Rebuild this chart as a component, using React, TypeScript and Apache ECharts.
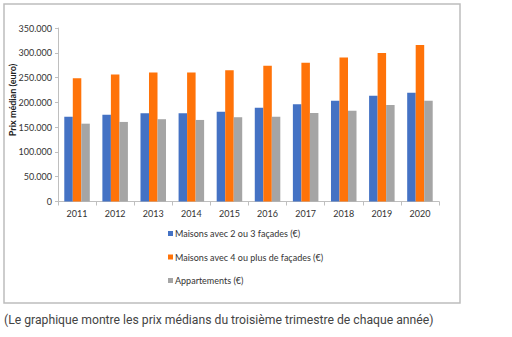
import React, { useEffect, useRef } from "react";
import * as echarts from "echarts";

const years = ["2011", "2012", "2013", "2014", "2015", "2016", "2017", "2018", "2019", "2020"];
const maisons23 = [171000, 175000, 178000, 178000, 181000, 189000, 196000, 203000, 213500, 219500];
const maisons4 = [248500, 256000, 260000, 260000, 265000, 274000, 280000, 290500, 299500, 315500];
const appartements = [157000, 160500, 166000, 164500, 170000, 171000, 178500, 183000, 194500, 203000];
const seriesNames = [
  "Maisons avec 2 ou 3 façades (€)",
  "Maisons avec 4 ou plus de façades (€)",
  "Appartements (€)",
];
const colors = ["#4472C4", "#FF7309", "#A5A5A5"];

const fmt = (v: number) => (v === 0 ? "0" : v.toLocaleString("de-DE"));

export default function App() {
  const ref = useRef<HTMLDivElement>(null);
  useEffect(() => {
    if (!ref.current) return;
    const chart = echarts.init(ref.current, null, { renderer: "svg" });
    const font = "Lato, 'Open Sans', sans-serif";
    chart.setOption({
      animation: false,
      backgroundColor: "#ffffff",
      textStyle: { fontFamily: font },
      grid: { left: 58, right: 73, top: 28, bottom: 135.5, containLabel: false },
      xAxis: {
        type: "category",
        data: years,
        axisLine: { lineStyle: { color: "#bfbfbf", width: 1 } },
        axisTick: { show: true, length: 4, lineStyle: { color: "#bfbfbf" } },
        axisLabel: { color: "#333", fontSize: 9, margin: 7, fontFamily: font },
      },
      yAxis: {
        type: "value",
        min: 0,
        max: 350000,
        interval: 50000,
        axisLine: { show: true, lineStyle: { color: "#bfbfbf", width: 1 } },
        axisTick: { show: true, length: 3, lineStyle: { color: "#bfbfbf" } },
        splitLine: { show: false },
        axisLabel: { color: "#333", fontSize: 9, margin: 6, formatter: fmt, fontFamily: font },
      },
      legend: {
        orient: "vertical",
        left: 163,
        top: 224,
        itemWidth: 5,
        itemHeight: 5,
        itemGap: 14.5,
        icon: "rect",
        textStyle: { color: "#333", fontSize: 9, fontFamily: font, padding: [0, 0, 0, -3] },
        data: seriesNames,
      },
      series: [maisons23, maisons4, appartements].map((d, i) => ({
        type: "bar",
        name: seriesNames[i],
        data: d,
        barGap: "0%",
        barCategoryGap: "33%",
        itemStyle: { color: colors[i] },
      })),
      graphic: [
        {
          type: "rect",
          shape: { x: 4, y: 4, width: 456, height: 299 },
          style: { fill: "none", stroke: "#bdbdbd", lineWidth: 1.5 },
          silent: true,
        },
        {
          type: "text",
          x: 12,
          y: 100,
          rotation: Math.PI / 2,
          style: {
            text: "Prix médian (euro)",
            fill: "#222",
            font: `bold 9px ${font}`,
            align: "center",
            verticalAlign: "middle",
          },
        },
        {
          type: "text",
          x: 4,
          y: 320,
          style: {
            text: "(Le graphique montre les prix médians du troisième trimestre de chaque année)",
            fill: "#444",
            font: "12.2px Roboto, sans-serif",
            align: "left",
            verticalAlign: "middle",
          },
        },
      ],
    });
    return () => chart.dispose();
  }, []);
  return (
    <div
      ref={ref}
      style={{ position: "fixed", left: 0, top: 0, width: 512, height: 337 }}
    />
  );
}
